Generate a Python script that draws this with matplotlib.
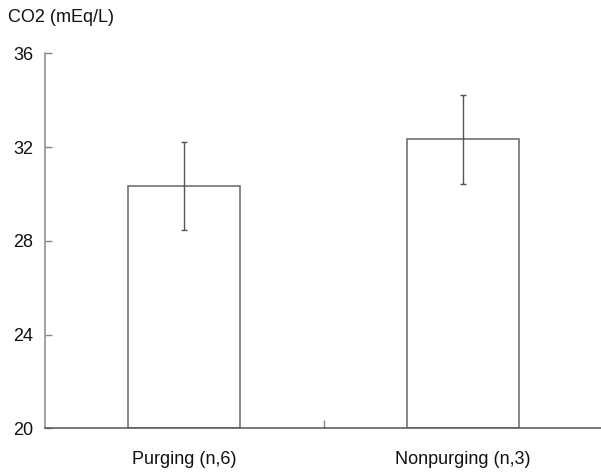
import matplotlib
matplotlib.use("Agg")
import matplotlib.pyplot as plt

categories = ["Purging (n,6)", "Nonpurging (n,3)"]
means = [30.33, 32.33]
errors = [1.87, 1.9]
yticks = [20, 24, 28, 32, 36]
ylabel = "CO2 (mEq/L)"

plt.rcParams['font.family'] = ['Liberation Sans', 'DejaVu Sans']

fig = plt.figure(figsize=(6.01, 4.73), dpi=100)
W, H = 601, 473
left, right, top, bottom = 44.7, 602.7, 53.3, 428.3
ax = fig.add_axes([left / W, 1 - bottom / H, (right - left) / W, (bottom - top) / H])

xs = list(range(len(categories)))
ax.bar(xs, [m - 20 for m in means], bottom=20, width=0.4, color='white',
       edgecolor='#666666', linewidth=1.1, zorder=2)
ax.errorbar(xs, means, yerr=errors, fmt='none', ecolor='#555555',
            elinewidth=1.0, capsize=2.5, capthick=1.0, zorder=3)

ax.set_xlim(-0.5, len(categories) - 0.5)
ax.set_ylim(20, 36)
ax.set_yticks(yticks)
ax.set_yticklabels([str(t) for t in yticks], fontsize=13, color='#111111')
ax.tick_params(axis='y', direction='in', length=5, width=1, color='#888888', pad=8)

ax.set_xticks([0.5])
ax.set_xticklabels([''])
ax.tick_params(axis='x', direction='in', length=6, width=1, color='#888888')
for i, c in enumerate(categories):
    ax.text(i, 20 - (460 - 428.3) / 23.44, c, ha='center', va='center',
            fontsize=13, color='#111111')

for s in ['top', 'right']:
    ax.spines[s].set_visible(False)
ax.spines['left'].set_color('#888888')
ax.spines['bottom'].set_color('#555555')
ax.spines['left'].set_linewidth(1.1)
ax.spines['bottom'].set_linewidth(1.1)

fig.text(8 / W, 1 - 17 / H, ylabel, ha='left', va='center', fontsize=13, color='#111111')

fig.savefig("out.png", dpi=100)
